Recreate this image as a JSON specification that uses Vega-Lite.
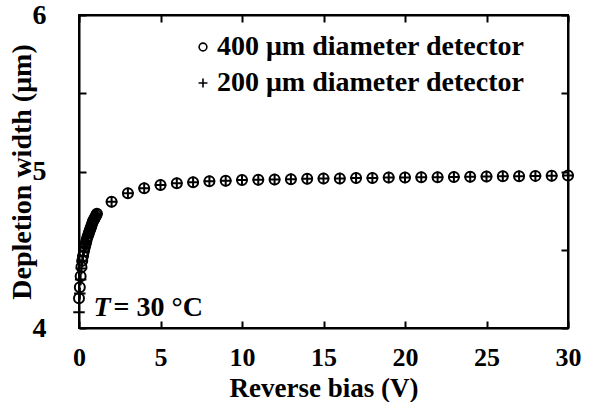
{
  "$schema": "https://vega.github.io/schema/vega-lite/v6.json",
  "width": 489,
  "height": 313,
  "autosize": {"type": "none"},
  "padding": {"left": 79, "top": 15, "right": 22, "bottom": 74},
  "background": "white",
  "datasets": {
    "depletion": [
      {"V": 0, "w": 4.19, "det": "400 μm diameter detector"},
      {"V": 0.05, "w": 4.26, "det": "400 μm diameter detector"},
      {"V": 0.1, "w": 4.33, "det": "400 μm diameter detector"},
      {"V": 0.15, "w": 4.39, "det": "400 μm diameter detector"},
      {"V": 0.2, "w": 4.43, "det": "400 μm diameter detector"},
      {"V": 0.25, "w": 4.46, "det": "400 μm diameter detector"},
      {"V": 0.3, "w": 4.49, "det": "400 μm diameter detector"},
      {"V": 0.35, "w": 4.515, "det": "400 μm diameter detector"},
      {"V": 0.4, "w": 4.535, "det": "400 μm diameter detector"},
      {"V": 0.45, "w": 4.555, "det": "400 μm diameter detector"},
      {"V": 0.5, "w": 4.575, "det": "400 μm diameter detector"},
      {"V": 0.55, "w": 4.59, "det": "400 μm diameter detector"},
      {"V": 0.6, "w": 4.605, "det": "400 μm diameter detector"},
      {"V": 0.65, "w": 4.62, "det": "400 μm diameter detector"},
      {"V": 0.7, "w": 4.635, "det": "400 μm diameter detector"},
      {"V": 0.75, "w": 4.65, "det": "400 μm diameter detector"},
      {"V": 0.8, "w": 4.665, "det": "400 μm diameter detector"},
      {"V": 0.85, "w": 4.68, "det": "400 μm diameter detector"},
      {"V": 0.9, "w": 4.69, "det": "400 μm diameter detector"},
      {"V": 0.95, "w": 4.70, "det": "400 μm diameter detector"},
      {"V": 1.0, "w": 4.71, "det": "400 μm diameter detector"},
      {"V": 1.05, "w": 4.72, "det": "400 μm diameter detector"},
      {"V": 1.1, "w": 4.73, "det": "400 μm diameter detector"},
      {"V": 2, "w": 4.807, "det": "400 μm diameter detector"},
      {"V": 3, "w": 4.861, "det": "400 μm diameter detector"},
      {"V": 4, "w": 4.893, "det": "400 μm diameter detector"},
      {"V": 5, "w": 4.914, "det": "400 μm diameter detector"},
      {"V": 6, "w": 4.925, "det": "400 μm diameter detector"},
      {"V": 7, "w": 4.932, "det": "400 μm diameter detector"},
      {"V": 8, "w": 4.937, "det": "400 μm diameter detector"},
      {"V": 9, "w": 4.941, "det": "400 μm diameter detector"},
      {"V": 10, "w": 4.945, "det": "400 μm diameter detector"},
      {"V": 11, "w": 4.947, "det": "400 μm diameter detector"},
      {"V": 12, "w": 4.949, "det": "400 μm diameter detector"},
      {"V": 13, "w": 4.951, "det": "400 μm diameter detector"},
      {"V": 14, "w": 4.953, "det": "400 μm diameter detector"},
      {"V": 15, "w": 4.955, "det": "400 μm diameter detector"},
      {"V": 16, "w": 4.956, "det": "400 μm diameter detector"},
      {"V": 17, "w": 4.958, "det": "400 μm diameter detector"},
      {"V": 18, "w": 4.959, "det": "400 μm diameter detector"},
      {"V": 19, "w": 4.961, "det": "400 μm diameter detector"},
      {"V": 20, "w": 4.962, "det": "400 μm diameter detector"},
      {"V": 21, "w": 4.963, "det": "400 μm diameter detector"},
      {"V": 22, "w": 4.964, "det": "400 μm diameter detector"},
      {"V": 23, "w": 4.965, "det": "400 μm diameter detector"},
      {"V": 24, "w": 4.966, "det": "400 μm diameter detector"},
      {"V": 25, "w": 4.968, "det": "400 μm diameter detector"},
      {"V": 26, "w": 4.969, "det": "400 μm diameter detector"},
      {"V": 27, "w": 4.970, "det": "400 μm diameter detector"},
      {"V": 28, "w": 4.972, "det": "400 μm diameter detector"},
      {"V": 29, "w": 4.973, "det": "400 μm diameter detector"},
      {"V": 30, "w": 4.975, "det": "400 μm diameter detector"},
      {"V": 0, "w": 4.10, "det": "200 μm diameter detector"},
      {"V": 0.05, "w": 4.22, "det": "200 μm diameter detector"},
      {"V": 0.1, "w": 4.31, "det": "200 μm diameter detector"},
      {"V": 0.15, "w": 4.38, "det": "200 μm diameter detector"},
      {"V": 0.2, "w": 4.425, "det": "200 μm diameter detector"},
      {"V": 0.25, "w": 4.46, "det": "200 μm diameter detector"},
      {"V": 0.3, "w": 4.49, "det": "200 μm diameter detector"},
      {"V": 0.35, "w": 4.515, "det": "200 μm diameter detector"},
      {"V": 0.4, "w": 4.535, "det": "200 μm diameter detector"},
      {"V": 0.45, "w": 4.555, "det": "200 μm diameter detector"},
      {"V": 0.5, "w": 4.575, "det": "200 μm diameter detector"},
      {"V": 0.55, "w": 4.59, "det": "200 μm diameter detector"},
      {"V": 0.6, "w": 4.605, "det": "200 μm diameter detector"},
      {"V": 0.65, "w": 4.62, "det": "200 μm diameter detector"},
      {"V": 0.7, "w": 4.635, "det": "200 μm diameter detector"},
      {"V": 0.75, "w": 4.65, "det": "200 μm diameter detector"},
      {"V": 0.8, "w": 4.665, "det": "200 μm diameter detector"},
      {"V": 0.85, "w": 4.68, "det": "200 μm diameter detector"},
      {"V": 0.9, "w": 4.69, "det": "200 μm diameter detector"},
      {"V": 0.95, "w": 4.70, "det": "200 μm diameter detector"},
      {"V": 1.0, "w": 4.71, "det": "200 μm diameter detector"},
      {"V": 1.05, "w": 4.72, "det": "200 μm diameter detector"},
      {"V": 1.1, "w": 4.73, "det": "200 μm diameter detector"},
      {"V": 2, "w": 4.807, "det": "200 μm diameter detector"},
      {"V": 3, "w": 4.861, "det": "200 μm diameter detector"},
      {"V": 4, "w": 4.893, "det": "200 μm diameter detector"},
      {"V": 5, "w": 4.914, "det": "200 μm diameter detector"},
      {"V": 6, "w": 4.925, "det": "200 μm diameter detector"},
      {"V": 7, "w": 4.932, "det": "200 μm diameter detector"},
      {"V": 8, "w": 4.937, "det": "200 μm diameter detector"},
      {"V": 9, "w": 4.941, "det": "200 μm diameter detector"},
      {"V": 10, "w": 4.945, "det": "200 μm diameter detector"},
      {"V": 11, "w": 4.947, "det": "200 μm diameter detector"},
      {"V": 12, "w": 4.949, "det": "200 μm diameter detector"},
      {"V": 13, "w": 4.951, "det": "200 μm diameter detector"},
      {"V": 14, "w": 4.953, "det": "200 μm diameter detector"},
      {"V": 15, "w": 4.955, "det": "200 μm diameter detector"},
      {"V": 16, "w": 4.956, "det": "200 μm diameter detector"},
      {"V": 17, "w": 4.958, "det": "200 μm diameter detector"},
      {"V": 18, "w": 4.959, "det": "200 μm diameter detector"},
      {"V": 19, "w": 4.961, "det": "200 μm diameter detector"},
      {"V": 20, "w": 4.962, "det": "200 μm diameter detector"},
      {"V": 21, "w": 4.963, "det": "200 μm diameter detector"},
      {"V": 22, "w": 4.964, "det": "200 μm diameter detector"},
      {"V": 23, "w": 4.965, "det": "200 μm diameter detector"},
      {"V": 24, "w": 4.966, "det": "200 μm diameter detector"},
      {"V": 25, "w": 4.968, "det": "200 μm diameter detector"},
      {"V": 26, "w": 4.969, "det": "200 μm diameter detector"},
      {"V": 27, "w": 4.970, "det": "200 μm diameter detector"},
      {"V": 28, "w": 4.972, "det": "200 μm diameter detector"},
      {"V": 29, "w": 4.973, "det": "200 μm diameter detector"},
      {"V": 30, "w": 4.975, "det": "200 μm diameter detector"}
    ]
  },
  "layer": [
    {
      "data": {"name": "depletion"},
      "mark": {"type": "point", "filled": false, "color": "black", "strokeWidth": 2, "size": 100, "opacity": 1},
      "encoding": {
        "x": {
          "field": "V", "type": "quantitative",
          "scale": {"domain": [0, 30], "nice": false, "zero": false},
          "axis": {
            "orient": "bottom", "title": "Reverse bias (V)",
            "values": [0, 5, 10, 15, 20, 25, 30],
            "labelPadding": 23, "labelFlush": false, "labelFontSize": 26,
            "titleY": 68, "titleBaseline": "alphabetic", "titleFontSize": 27
          }
        },
        "y": {
          "field": "w", "type": "quantitative",
          "scale": {"domain": [4, 6], "nice": false, "zero": false},
          "axis": {
            "orient": "left", "title": "Depletion width (μm)",
            "values": [4, 4.5, 5, 5.5, 6],
            "labelExpr": "datum.value % 1 === 0 ? format(datum.value, 'd') : ''",
            "labelPadding": 40, "labelFlush": false,
            "titleX": -57, "titleBaseline": "middle"
          }
        },
        "shape": {
          "field": "det", "type": "nominal",
          "scale": {
            "domain": ["400 μm diameter detector", "200 μm diameter detector"],
            "range": ["circle", "M-1.15,0H1.15M0,-1.15V1.15"]
          },
          "legend": {
            "orient": "none", "legendX": 110, "legendY": 18,
            "title": null, "padding": 0,
            "labelFont": "Liberation Serif", "labelFontSize": 28, "labelFontWeight": "bold",
            "labelColor": "black", "labelLimit": 500, "labelOffset": 0,
            "symbolSize": 60, "symbolStrokeWidth": 1.6, "symbolStrokeColor": "black",
            "symbolFillColor": "transparent", "rowPadding": 8
          }
        }
      }
    },
    {
      "data": {"values": [{}]},
      "mark": {"type": "text", "text": "T", "font": "Liberation Serif", "fontSize": 28, "fontWeight": "bold", "fontStyle": "italic", "align": "left", "baseline": "alphabetic", "color": "black"},
      "encoding": {
        "x": {"datum": 0.89, "type": "quantitative",
          "axis": {"orient": "top", "title": null, "labels": false, "values": [0, 5, 10, 15, 20, 25, 30]}},
        "y": {"datum": 4.077, "type": "quantitative",
          "axis": {"orient": "right", "title": null, "labels": false, "values": [4, 4.5, 5, 5.5, 6]}}
      }
    },
    {
      "data": {"values": [{}]},
      "mark": {"type": "text", "text": "= 30 °C", "font": "Liberation Serif", "fontSize": 28, "fontWeight": "bold", "align": "left", "baseline": "alphabetic", "color": "black"},
      "encoding": {
        "x": {"datum": 2.12, "type": "quantitative", "axis": null},
        "y": {"datum": 4.077, "type": "quantitative", "axis": null}
      }
    }
  ],
  "resolve": {"axis": {"x": "independent", "y": "independent"}},
  "config": {
    "font": "Liberation Serif",
    "view": {"stroke": "black", "strokeWidth": 2},
    "axis": {
      "grid": false,
      "domainColor": "black", "domainWidth": 2,
      "tickColor": "black", "tickWidth": 2, "tickSize": -7,
      "labelFont": "Liberation Serif", "labelFontSize": 28, "labelFontWeight": "bold", "labelColor": "black",
      "titleFont": "Liberation Serif", "titleFontSize": 28, "titleFontWeight": "bold", "titleColor": "black"
    }
  }
}
